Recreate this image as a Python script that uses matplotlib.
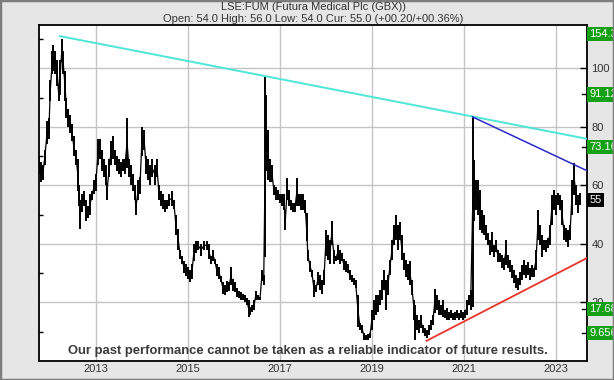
import numpy as np
import matplotlib
matplotlib.use("Agg")
import matplotlib.pyplot as plt
from matplotlib.patches import Rectangle

# price bars (decimal year, low, high), GBX
dates = [
    2011.75, 2011.80, 2011.84, 2011.88, 2011.93, 2011.97, 2012.00, 2012.04, 2012.06, 2012.10,
    2012.15, 2012.18, 2012.21, 2012.25, 2012.28, 2012.32, 2012.35, 2012.38, 2012.43, 2012.47,
    2012.51, 2012.56, 2012.60, 2012.62, 2012.65, 2012.69, 2012.73, 2012.78, 2012.82, 2012.86,
    2012.91, 2012.95, 2012.99, 2013.04, 2013.08, 2013.12, 2013.17, 2013.21, 2013.23, 2013.28,
    2013.32, 2013.36, 2013.41, 2013.45, 2013.49, 2013.54, 2013.58, 2013.62, 2013.67, 2013.71,
    2013.75, 2013.80, 2013.84, 2013.86, 2013.91, 2013.95, 2013.99, 2014.04, 2014.08, 2014.12,
    2014.17, 2014.21, 2014.28, 2014.32, 2014.36, 2014.41, 2014.45, 2014.49, 2014.54, 2014.58,
    2014.64, 2014.69, 2014.73, 2014.78, 2014.82, 2014.86, 2014.91, 2014.95, 2014.99, 2015.04,
    2015.08, 2015.12, 2015.17, 2015.21, 2015.28, 2015.34, 2015.41, 2015.45, 2015.49, 2015.54,
    2015.58, 2015.62, 2015.67, 2015.71, 2015.75, 2015.80, 2015.84, 2015.88, 2015.93, 2015.97,
    2016.01, 2016.06, 2016.10, 2016.15, 2016.19, 2016.23, 2016.28, 2016.31, 2016.34, 2016.38,
    2016.43, 2016.47, 2016.51, 2016.56, 2016.60, 2016.64, 2016.67, 2016.70, 2016.73, 2016.78,
    2016.82, 2016.86, 2016.91, 2016.95, 2016.99, 2017.04, 2017.08, 2017.11, 2017.15, 2017.19,
    2017.23, 2017.28, 2017.32, 2017.36, 2017.41, 2017.45, 2017.49, 2017.54, 2017.57, 2017.60,
    2017.65, 2017.69, 2017.73, 2017.78, 2017.82, 2017.86, 2017.91, 2017.95, 2017.99, 2018.04,
    2018.08, 2018.12, 2018.17, 2018.21, 2018.25, 2018.30, 2018.34, 2018.38, 2018.43, 2018.47,
    2018.51, 2018.56, 2018.60, 2018.64, 2018.69, 2018.73, 2018.78, 2018.82, 2018.86, 2018.91,
    2018.95, 2018.99, 2019.04, 2019.08, 2019.12, 2019.17, 2019.21, 2019.25, 2019.30, 2019.34,
    2019.38, 2019.43, 2019.47, 2019.51, 2019.56, 2019.60, 2019.64, 2019.69, 2019.73, 2019.78,
    2019.82, 2019.86, 2019.91, 2019.93, 2019.97, 2020.01, 2020.06, 2020.10, 2020.14, 2020.19,
    2020.23, 2020.28, 2020.32, 2020.36, 2020.41, 2020.45, 2020.49, 2020.54, 2020.58, 2020.62,
    2020.67, 2020.71, 2020.75, 2020.80, 2020.84, 2020.88, 2020.93, 2020.97, 2021.01, 2021.06,
    2021.10, 2021.14, 2021.18, 2021.21, 2021.25, 2021.30, 2021.34, 2021.38, 2021.43, 2021.47,
    2021.51, 2021.56, 2021.60, 2021.64, 2021.69, 2021.73, 2021.77, 2021.82, 2021.86, 2021.90,
    2021.95, 2021.99, 2022.04, 2022.08, 2022.12, 2022.17, 2022.21, 2022.25, 2022.30, 2022.34,
    2022.38, 2022.43, 2022.47, 2022.51, 2022.56, 2022.60, 2022.64, 2022.69, 2022.73, 2022.77,
    2022.82, 2022.86, 2022.90, 2022.95, 2022.99, 2023.04, 2023.08, 2023.12, 2023.17, 2023.21,
    2023.25, 2023.30, 2023.34, 2023.39, 2023.43, 2023.47, 2023.51,
]
lows = [
    64, 61, 62, 67, 74, 76, 89, 98, 99, 98,
    94, 89, 91, 102, 98, 89, 83, 80, 78, 75,
    70, 67, 58, 53, 45, 51, 53, 48, 49, 50,
    55, 57, 58, 67, 69, 65, 63, 60, 55, 63,
    67, 69, 67, 65, 64, 63, 65, 64, 66, 63,
    60, 58, 55, 50, 55, 57, 70, 72, 64, 62,
    60, 63, 60, 63, 55, 53, 52, 51, 52, 53,
    53, 52, 43, 38, 35, 33, 30, 29, 28, 27,
    28, 34, 37, 38, 36, 38, 38, 35, 33, 34,
    33, 29, 28, 27, 23, 22.5, 23.5, 24, 26, 24,
    23.5, 22, 21.5, 21, 21, 20, 19, 15, 15.7, 16.7,
    17.4, 21, 21, 21, 27.5, 26, 35.5, 65, 62, 61,
    61, 56.7, 55, 55, 54, 53, 51.6, 44.8, 55, 53,
    51.6, 51, 51, 53, 53, 51.6, 51.6, 50.6, 41, 34,
    30.4, 28.7, 22, 23.5, 26, 24.3, 23, 26, 36, 34.5,
    33, 39.7, 33, 34, 34.5, 33, 34, 31, 30.4, 30,
    27.7, 27, 26, 25, 11.6, 10.6, 9.6, 7.2, 7.2, 7.2,
    7.9, 10.6, 14, 15.7, 16.8, 19.1, 20.9, 24.3, 17.4, 22.6,
    29.4, 34.5, 39.7, 41.4, 38, 41.4, 34.5, 31, 28.7, 27.7,
    26, 22.6, 14, 7.2, 10.6, 9.6, 11.3, 9.6, 8.5, 7.9,
    8.9, 10.6, 12.3, 16.4, 17.4, 15.7, 15.7, 15, 14.7, 14,
    14, 14.7, 14, 14, 14.7, 14, 14.7, 14, 14.7, 15.7,
    19, 17.4, 18.5, 48, 51.6, 50, 44.8, 43.8, 43, 41.4,
    39.7, 36.2, 37.3, 35.6, 37.3, 33.8, 33.8, 31.8, 31, 32.8,
    31.8, 30.4, 28.4, 26.7, 25, 24.3, 26, 27.7, 29.4, 28.4,
    29.4, 27.7, 28.7, 28.7, 31, 41.4, 39.7, 35.6, 38, 37.3,
    38.6, 39.7, 46.5, 51.6, 50, 53.3, 51.6, 46.5, 41.4, 40.7,
    39, 41.4, 50, 56.8, 53.3, 50.6, 53.3,
]
highs = [
    70, 68, 67, 72, 82, 83, 96, 106, 108, 106,
    103, 94, 103, 110, 106, 99, 90, 86, 84, 81,
    77, 72, 69, 60, 55, 57, 58, 55, 53, 57,
    58, 62, 64, 76, 76, 72, 69, 67, 60, 69,
    75, 77, 72, 70, 69, 68, 69, 69, 83, 69,
    67, 64, 60, 55, 62, 63, 80, 79, 70, 69,
    67, 69, 67, 69, 60, 58, 57, 55, 55, 57,
    58, 55, 50, 45, 38, 36, 34, 33, 32, 31,
    33, 40, 41, 41, 40, 41, 41, 40, 36, 38,
    35, 33, 32, 29, 27, 26, 27.5, 27, 32, 28,
    27, 25, 24, 23.5, 23, 22.5, 21.5, 21, 18.5, 19,
    21, 24, 22.5, 22, 31, 29.5, 97, 91, 79, 69,
    67, 60, 59.5, 58.5, 57, 57, 57, 51.6, 62.5, 58.5,
    55, 54, 54, 62.5, 57, 57, 57, 55, 50.6, 38,
    34, 31, 27.7, 26, 30.4, 29.4, 27.7, 31, 44.8, 43,
    41.4, 48, 38, 36, 39.7, 38, 37, 35, 34, 33,
    31, 29.4, 28.4, 27.7, 22.6, 13, 12.3, 9.6, 8.9, 9.2,
    9.6, 17.4, 20.9, 22.6, 22.6, 24.3, 27.7, 31, 27.7, 29.4,
    34.5, 41.4, 46.5, 50, 46.5, 47.5, 43, 37, 34.5, 33,
    34, 27.7, 21, 19, 15.7, 14, 15.7, 12.3, 11.3, 10.6,
    12.3, 14, 15.7, 24.6, 22.6, 21, 19, 21, 17.4, 18.1,
    16.7, 17.4, 16.4, 16.7, 17.4, 16.4, 17.4, 16.7, 17.4, 21,
    22.6, 24.3, 83.4, 68.7, 62, 62, 58.5, 51.6, 50, 46.5,
    43.8, 41.4, 44, 39.7, 41.4, 38, 37, 36.2, 35.2, 41.4,
    36.2, 34.5, 32.8, 31, 29.4, 28.4, 30.4, 32.8, 34.5, 32.8,
    33.8, 31.8, 32.8, 31.8, 38, 51.6, 46.5, 43, 41.4, 41.4,
    42, 46.5, 56.8, 58.5, 56.8, 57.4, 56.8, 55, 46.5, 45.5,
    44.8, 46.5, 62, 67.7, 60, 56.8, 57.4,
]

# trend lines (start/end in decimal year, price)
cyan_x = [2012.21, 2023.67]
cyan_y = [111.0, 75.9]
blue_x = [2021.18, 2023.67]
blue_y = [83.4, 65.0]
red_x = [2020.18, 2023.67]
red_y = [6.9, 35.2]

# labelled levels on the right hand side
green_levels = [154.3, 91.12, 73.16, 17.68, 9.656]
green_texts = ["154.3", "91.12", "73.16", "17.68", "9.656"]
current_price = 55.0
year_ticks = [2013, 2015, 2017, 2019, 2021, 2023]
price_ticks = [20, 40, 60, 80, 100]

title1 = "LSE:FUM (Futura Medical Plc (GBX))"
title2 = "Open: 54.0 High: 56.0 Low: 54.0 Cur: 55.0 (+00.20/+00.36%)"
disclaimer = "Our past performance cannot be taken as a reliable indicator of future results."

plt.rcParams["font.family"] = ["Liberation Sans", "DejaVu Sans"]

fig = plt.figure(figsize=(6.14, 3.80), dpi=100, facecolor="#e6e6e6")
fig.patches.append(Rectangle((0, 0), 1, 1, transform=fig.transFigure,
                             fc="none", ec="#7d7d7d", lw=2.5, zorder=0))
ax = fig.add_axes([0.0635, 0.05, 0.893, 0.8842])
ax.set_facecolor("white")

xmin, xmax = 2011.754, 2023.674
ymin, ymax = 0, 114.8
ax.set_xlim(xmin, xmax)
ax.set_ylim(ymin, ymax)

for yr in year_ticks:
    ax.axvline(yr, color="#c4c4c4", lw=1, zorder=1)
for p in price_ticks:
    ax.axhline(p, color="#c4c4c4", lw=1, zorder=1)

d = np.array(dates)
lo = np.array(lows)
hi = np.array(highs)
ax.vlines(d, lo, hi, color="black", lw=1.4, zorder=3)
ax.plot(d, (lo + hi) / 2, color="black", lw=0.9, zorder=3)

ax.plot(cyan_x, cyan_y, color="#4ee6d6", lw=1.4, zorder=4)
ax.plot(blue_x, blue_y, color="#2a2ac8", lw=1.1, zorder=4)
ax.plot(red_x, red_y, color="#e8352a", lw=1.3, zorder=4)

for s in ax.spines.values():
    s.set_color("black")
    s.set_linewidth(1.3)

ax.set_xticks(year_ticks)
ax.set_xticklabels([str(y) for y in year_ticks])
ax.tick_params(axis="x", length=0, pad=2.5, labelsize=8, labelcolor="#333333")

ax.set_yticks(price_ticks)
ax.set_yticks(np.arange(10, 115, 10), minor=True)
ax.tick_params(axis="y", which="major", left=False, right=True, labelleft=False,
               labelright=True, direction="in", length=5, width=1, pad=3,
               labelsize=8, labelcolor="#333333")
ax.tick_params(axis="y", which="minor", left=True, right=False, direction="in",
               length=3, width=1)

ytr = ax.get_yaxis_transform()
for v, t in zip(green_levels, green_texts):
    yv = min(v, ymax - 3)
    if v < ymax:
        ax.plot([0.99, 1.006], [v, v], color="black", lw=1, transform=ytr,
                clip_on=False, zorder=6)
    ax.text(1.004, yv, t, transform=ytr, ha="left", va="center", fontsize=8,
            color="white", clip_on=False, zorder=7,
            bbox=dict(boxstyle="square,pad=0.2", fc="#16a016", ec="none"))
ax.text(1.004, current_price, "%g" % current_price, transform=ytr, ha="left",
        va="center", fontsize=8, color="white", clip_on=False, zorder=7,
        bbox=dict(boxstyle="square,pad=0.2", fc="black", ec="none"))

fig.text(0.51, 0.981, title1, ha="center", va="center", fontsize=8, color="#333333")
fig.text(0.51, 0.950, title2, ha="center", va="center", fontsize=8, color="#333333")
fig.text(0.501, 0.077, disclaimer, ha="center", va="center",
         fontsize=9.4, fontweight="bold", color="#3a3a3a", zorder=8)

fig.savefig("out.png", dpi=100, facecolor=fig.get_facecolor())
